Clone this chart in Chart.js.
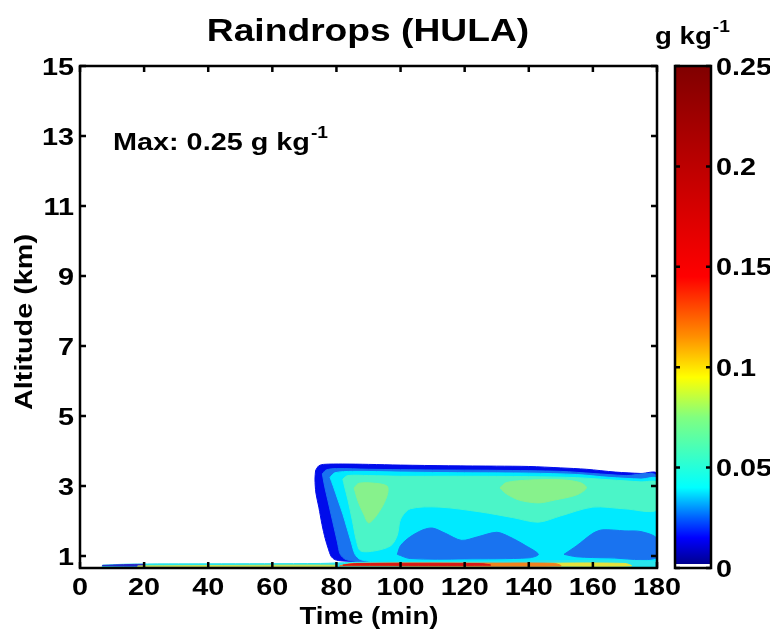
<!DOCTYPE html>
<html>
<head>
<meta charset="utf-8">
<script src="https://cdn.jsdelivr.net/npm/chart.js@4.4.1/dist/chart.umd.min.js"></script>
<style>
  body { margin: 0; background: #fff; }
  #wrap { position: relative; width: 770px; height: 634px; }
  #main { position: absolute; left: 0; top: 0; }
  #cbar { position: absolute; left: 640px; top: 0; }
</style>
</head>
<body>
<div id="wrap">
  <canvas id="main" width="770" height="634"></canvas>
  <canvas id="cbar" width="130" height="634"></canvas>
</div>
<script>
// axes
var xTicks = [0, 20, 40, 60, 80, 100, 120, 140, 160, 180];
var yTicks = [1, 3, 5, 7, 9, 11, 13, 15];
var cbTicks = [0, 0.05, 0.1, 0.15, 0.2, 0.25];
var cbTickLabels = ['0', '0.05', '0.1', '0.15', '0.2', '0.25'];

// contour regions, [time (min), altitude (km)]
var outerDarkBlue = [[73.5,3.45],[74.5,3.58],[76,3.62],[82,3.63],[90,3.62],[100,3.6],[115,3.58],[130,3.57],[140,3.56],[150,3.52],[158,3.48],[167,3.4],[175,3.36],[180,3.35],[180,0.84],[90,0.84],[82,0.86],[79.5,0.9],[78.3,1.0],[77.5,1.2],[76.5,1.5],[75.5,1.9],[74.5,2.4],[73.6,2.8],[73.3,3.2]];
var mediumBlue = [[75.6,3.35],[76.8,3.46],[80,3.5],[90,3.48],[110,3.46],[130,3.45],[150,3.42],[160,3.36],[170,3.3],[180,3.27],[180,0.84],[88,0.84],[83,0.9],[81.2,1.05],[80.3,1.4],[79.3,1.8],[78.3,2.2],[77.3,2.6],[76.3,3.0]];
var cyanCore = [[78,3.25],[79.5,3.38],[85,3.42],[100,3.4],[120,3.38],[140,3.37],[155,3.33],[165,3.25],[175,3.2],[180,3.2],[180,0.84],[92,0.84],[87.5,0.9],[85.8,1.05],[84.6,1.4],[83.3,1.8],[82,2.2],[80.5,2.6],[79,3.0]];
var aquaUpper = [[82,3.2],[83.5,3.3],[90,3.3],[100,3.28],[120,3.28],[140,3.27],[155,3.24],[165,3.18],[175,3.12],[180,3.1],[180,2.32],[170,2.35],[160,2.4],[150,2.15],[143,1.97],[135,2.1],[125,2.26],[112,2.4],[103,2.35],[100,2.05],[99,1.6],[97,1.3],[92,1.15],[87.5,1.15],[86.2,1.45],[85,2.0],[83.6,2.6],[82.5,3.0]];
var greenLeft = [[85.5,2.95],[87,3.08],[92,3.08],[95.8,3.0],[96,2.8],[94.5,2.45],[92,2.1],[90,1.95],[88.5,2.2],[86.8,2.55]];
var greenRight = [[131,2.95],[133,3.1],[140,3.17],[150,3.18],[156,3.1],[158,2.95],[155,2.75],[148,2.6],[143,2.52],[137,2.6],[133,2.78]];
var blueLowA = [[99,1.05],[100,1.3],[103,1.55],[107,1.75],[110,1.8],[114,1.65],[119,1.45],[124,1.55],[130,1.68],[134,1.55],[139,1.3],[143,1.05],[140,0.95],[120,0.92],[103,0.93]];
var blueLowB = [[151,1.05],[155,1.3],[160,1.65],[163,1.75],[170,1.72],[175,1.7],[180,1.5],[180,0.95],[165,0.95],[155,0.98]];
var stripCyan = [[7,0.74],[15,0.77],[40,0.78],[75,0.79],[85,0.82],[120,0.84],[180,0.85],[180,0.6],[7,0.6]];
var stripNavy = [[7,0.735],[20,0.765],[20,0.72],[7,0.725]];
var stripYellowLeft = [[18,0.72],[40,0.73],[80,0.74],[80,0.7],[18,0.7]];
var stripYellowRight = [[140,0.72],[145,0.79],[170,0.79],[172,0.72]];
var stripOrange = [[81,0.72],[85,0.79],[130,0.8],[148,0.79],[150,0.72]];
var stripRed = [[82,0.74],[86,0.785],[125,0.785],[128,0.74]];

var layers = [
  [outerDarkBlue, 'rgb(0,12,235)'],
  [mediumBlue, 'rgb(25,115,240)'],
  [cyanCore, 'rgb(0,234,255)'],
  [aquaUpper, 'rgb(75,245,200)'],
  [greenLeft, 'rgb(135,242,140)'],
  [greenRight, 'rgb(135,242,140)'],
  [blueLowA, 'rgb(25,115,240)'],
  [blueLowB, 'rgb(25,115,240)'],
  [stripCyan, 'rgb(40,228,235)'],
  [stripNavy, 'rgb(40,40,200)'],
  [stripYellowLeft, 'rgb(200,225,90)'],
  [stripYellowRight, 'rgb(230,225,60)'],
  [stripOrange, 'rgb(240,130,30)'],
  [stripRed, 'rgb(215,25,20)']
];

var FONT = '"Liberation Sans", Arial, sans-serif';
var SX = 1.2;

function txt(ctx, s, x, y, size, align, rot) {
  ctx.save();
  ctx.translate(x, y);
  if (rot) ctx.rotate(rot);
  ctx.scale(SX, 1);
  ctx.font = 'bold ' + size + 'px ' + FONT;
  ctx.textAlign = align;
  ctx.textBaseline = 'alphabetic';
  ctx.fillStyle = '#000';
  ctx.fillText(s, 0, 0);
  ctx.restore();
}
function txtW(ctx, s, size) {
  ctx.font = 'bold ' + size + 'px ' + FONT;
  return ctx.measureText(s).width * SX;
}

var datasets = layers.map(function (l, i) {
  var pts = l[0].concat([l[0][0]]).map(function (p) { return {x: p[0], y: p[1]}; });
  return {
    data: pts,
    showLine: true,
    fill: 'shape',
    backgroundColor: l[1],
    borderColor: l[1],
    borderWidth: 1,
    pointRadius: 0,
    tension: 0.3,
    order: layers.length - i
  };
});

var mainDecor = {
  id: 'mainDecor',
  afterDraw: function (chart) {
    var ctx = chart.ctx, a = chart.chartArea;
    var xs = chart.scales.x, ys = chart.scales.y;
    ctx.save();
    ctx.strokeStyle = '#000';
    ctx.lineWidth = 2.5;
    ctx.strokeRect(a.left, a.top, a.right - a.left, a.bottom - a.top);
    ctx.beginPath();
    xTicks.forEach(function (v) {
      var px = xs.getPixelForValue(v);
      ctx.moveTo(px, a.bottom); ctx.lineTo(px, a.bottom - 6);
      ctx.moveTo(px, a.top); ctx.lineTo(px, a.top + 6);
    });
    yTicks.forEach(function (v) {
      var py = ys.getPixelForValue(v);
      ctx.moveTo(a.left, py); ctx.lineTo(a.left + 6, py);
      ctx.moveTo(a.right, py); ctx.lineTo(a.right - 6, py);
    });
    ctx.stroke();
    xTicks.forEach(function (v) {
      txt(ctx, String(v), xs.getPixelForValue(v), 595, 24, 'center');
    });
    yTicks.forEach(function (v) {
      txt(ctx, String(v), a.left - 6, ys.getPixelForValue(v) + 8.6, 24, 'right');
    });
    txt(ctx, 'Raindrops (HULA)', 368, 41, 31, 'center');
    txt(ctx, 'Time (min)', 369, 624, 23, 'center');
    txt(ctx, 'Altitude (km)', 32, 322, 24, 'center', -Math.PI / 2);
    var m = 'Max: 0.25 g kg';
    txt(ctx, m, 113, 150, 24, 'left');
    txt(ctx, '-1', 113 + txtW(ctx, m, 24) + 1, 138, 16, 'left');
    ctx.restore();
  }
};

new Chart(document.getElementById('main'), {
  type: 'scatter',
  data: { datasets: datasets },
  options: {
    responsive: false,
    animation: false,
    events: [],
    layout: { padding: { left: 0, right: 113, top: 66, bottom: 0 } },
    plugins: { legend: { display: false }, tooltip: { enabled: false } },
    scales: {
      x: {
        type: 'linear', min: xTicks[0], max: xTicks[xTicks.length - 1],
        ticks: { display: false }, grid: { display: false }, border: { display: false },
        afterFit: function (s) { s.height = 66; }
      },
      y: {
        type: 'linear', min: 0.66, max: 15,
        ticks: { display: false }, grid: { display: false }, border: { display: false },
        afterFit: function (s) { s.width = 80; }
      }
    }
  },
  plugins: [mainDecor]
});

// colour bar
var jetStops = [[0,'#ffffff'],[0.007,'#ffffff'],[0.008,'#00008f'],[0.06,'#0000ff'],[0.1,'#0060ff'],[0.16,'#00ffff'],[0.3,'#80ff80'],[0.38,'#ffff00'],[0.46,'#ff9000'],[0.58,'#ff0000'],[1,'#800000']];

var cbDecor = {
  id: 'cbDecor',
  afterDraw: function (chart) {
    var ctx = chart.ctx, a = chart.chartArea, ys = chart.scales.y;
    ctx.save();
    ctx.strokeStyle = '#000';
    ctx.lineWidth = 2.5;
    ctx.strokeRect(a.left, a.top, a.right - a.left, a.bottom - a.top);
    ctx.beginPath();
    cbTicks.forEach(function (v) {
      var py = ys.getPixelForValue(v);
      ctx.moveTo(a.left, py); ctx.lineTo(a.left + 5, py);
      ctx.moveTo(a.right, py); ctx.lineTo(a.right - 5, py);
    });
    ctx.stroke();
    cbTicks.forEach(function (v, i) {
      txt(ctx, cbTickLabels[i], a.right + 5, ys.getPixelForValue(v) + 8.6, 24, 'left');
    });
    var u = 'g kg';
    txt(ctx, u, 15, 44, 23, 'left');
    txt(ctx, '-1', 15 + txtW(ctx, u, 23) + 1, 32, 16, 'left');
    ctx.restore();
  }
};

new Chart(document.getElementById('cbar'), {
  type: 'bar',
  data: {
    labels: [''],
    datasets: [{
      data: [[cbTicks[0], cbTicks[cbTicks.length - 1]]],
      barPercentage: 1,
      categoryPercentage: 1,
      borderWidth: 0,
      backgroundColor: function (c) {
        var area = c.chart.chartArea;
        if (!area) return '#00f';
        var g = c.chart.ctx.createLinearGradient(0, area.bottom, 0, area.top);
        jetStops.forEach(function (s) { g.addColorStop(s[0], s[1]); });
        return g;
      }
    }]
  },
  options: {
    responsive: false,
    animation: false,
    events: [],
    layout: { padding: { left: 35, right: 0, top: 66, bottom: 0 } },
    plugins: { legend: { display: false }, tooltip: { enabled: false } },
    scales: {
      x: {
        ticks: { display: false }, grid: { display: false }, border: { display: false },
        afterFit: function (s) { s.height = 66; }
      },
      y: {
        position: 'right', min: cbTicks[0], max: cbTicks[cbTicks.length - 1],
        ticks: { display: false }, grid: { display: false }, border: { display: false },
        afterFit: function (s) { s.width = 59; }
      }
    }
  },
  plugins: [cbDecor]
});
</script>
</body>
</html>
